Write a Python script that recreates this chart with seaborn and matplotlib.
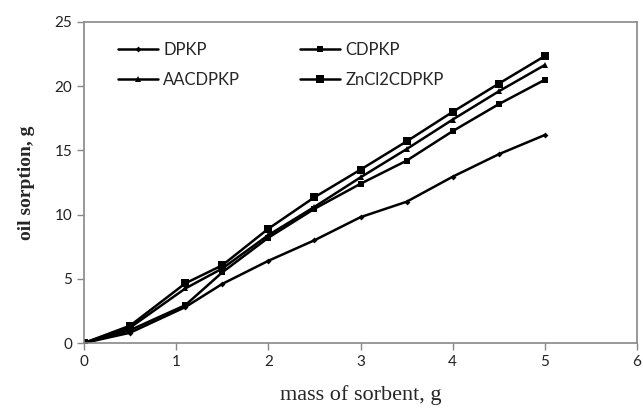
import matplotlib
matplotlib.use("Agg")
import matplotlib.pyplot as plt
import numpy as np
import pandas as pd
import seaborn as sns

mass = [0, 0.5, 1.1, 1.5, 2.0, 2.5, 3.0, 3.5, 4.0, 4.5, 5.0]
dpkp = [0, 0.8, 2.8, 4.6, 6.4, 8.0, 9.8, 11.0, 12.95, 14.7, 16.2]
cdpkp = [0, 1.0, 2.95, 5.5, 8.2, 10.45, 12.4, 14.2, 16.5, 18.6, 20.5]
aacdpkp = [0, 1.2, 4.25, 5.8, 8.4, 10.6, 12.9, 15.1, 17.4, 19.6, 21.65]
zncl2cdpkp = [0, 1.35, 4.65, 6.05, 8.9, 11.35, 13.5, 15.7, 18.0, 20.2, 22.35]
series = ["DPKP", "CDPKP", "AACDPKP", "ZnCl2CDPKP"]

df = pd.concat([
    pd.DataFrame({"mass": mass, "sorption": v, "sorbent": name})
    for name, v in zip(series, [dpkp, cdpkp, aacdpkp, zncl2cdpkp])
])

sns.set_style("white")
plt.rcParams['font.family'] = ['Lato', 'DejaVu Sans']

fig = plt.figure(figsize=(6.43, 4.15), dpi=100)
ax = fig.add_axes([84/643, 1-343/415, (637-84)/643, (343-22)/415])

markers = {"DPKP": "D", "CDPKP": "s", "AACDPKP": "^", "ZnCl2CDPKP": "s"}
sizes = {"DPKP": 3, "CDPKP": 4, "AACDPKP": 5, "ZnCl2CDPKP": 6}
for name in series:
    sub = df[df.sorbent == name]
    sns.lineplot(data=sub, x="mass", y="sorption", ax=ax, color="black",
                 marker=markers[name], markersize=sizes[name], linewidth=1.8,
                 markeredgewidth=0, label=name)

ax.set_xlim(0, 6)
ax.set_ylim(0, 25)
ax.set_xticks(range(0, 7))
ax.set_yticks(range(0, 26, 5))
ax.tick_params(axis="both", labelsize=11, colors="#222222", length=5,
               width=1, direction="out", color="#888888")
ax.tick_params(left=True, bottom=True)
for s in ax.spines.values():
    s.set_color("#888888")
    s.set_linewidth(1.2)

ax.set_xlabel("mass of sorbent, g", family="Liberation Serif", fontsize=16,
              labelpad=12)
ax.set_ylabel("oil sorption, g", family="Liberation Serif", fontsize=14,
              fontweight="bold", labelpad=14)

# row-wise legend order: DPKP, CDPKP / AACDPKP, ZnCl2CDPKP
handles, labels = ax.get_legend_handles_labels()
order = [0, 2, 1, 3]
ax.legend([handles[i] for i in order], [labels[i] for i in order],
          ncol=2, frameon=False, loc="upper left", fontsize=12,
          bbox_to_anchor=(0.035, 0.985), handlelength=2.4, handletextpad=0.3,
          columnspacing=3.6, labelspacing=0.85)

plt.savefig("out.png", dpi=100)
